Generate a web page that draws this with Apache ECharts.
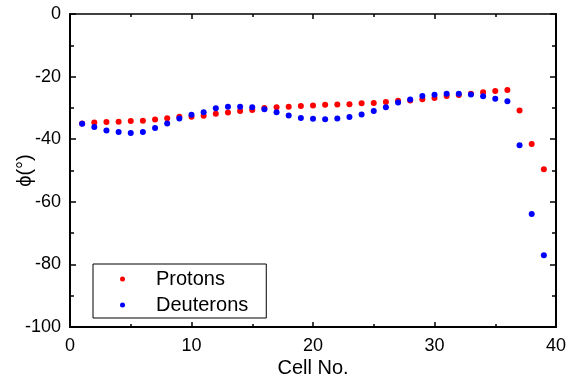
<!DOCTYPE html>
<html>
<head>
<meta charset="utf-8">
<script src="https://cdn.jsdelivr.net/npm/echarts@6/dist/echarts.min.js"></script>
<style>
  html, body { margin: 0; padding: 0; background: #fff; }
  #chart { width: 572px; height: 381px; }
</style>
</head>
<body>
<div id="chart"></div>
<script>
// Phase per cell, in degrees
const cells = [1,2,3,4,5,6,7,8,9,10,11,12,13,14,15,16,17,18,19,20,
               21,22,23,24,25,26,27,28,29,30,31,32,33,34,35,36,37,38,39];
const protons = [-35.0,-34.7,-34.5,-34.4,-34.2,-34.1,-33.7,-33.3,-32.8,-32.8,
                 -32.5,-31.9,-31.5,-31.0,-30.7,-30.0,-29.8,-29.6,-29.4,-29.2,
                 -29.0,-28.9,-28.8,-28.5,-28.4,-28.1,-27.7,-27.6,-27.2,-26.8,
                 -26.2,-25.9,-25.5,-25.0,-24.6,-24.3,-30.8,-41.5,-49.6];
const deuterons = [-35.1,-36.1,-37.2,-37.7,-38.0,-37.7,-36.4,-35.0,-33.4,-32.2,
                   -31.4,-30.1,-29.6,-29.6,-29.8,-30.4,-31.4,-32.4,-33.2,-33.5,
                   -33.6,-33.4,-32.9,-32.1,-31.0,-29.8,-28.3,-27.3,-26.2,-25.8,
                   -25.5,-25.5,-25.7,-26.3,-27.1,-27.9,-41.9,-63.9,-77.1];
const xTicks = { min: 0, max: 40, interval: 10 };
const yTicks = { min: -100, max: 0, interval: 20 };

const pairs = (ys) => cells.map((c, i) => [c, ys[i]]);

const font = 'Liberation Sans, Arial, sans-serif';
const axisLine = (w) => ({ show: true, onZero: false, lineStyle: { color: '#000', width: w } });
const tick = (len) => ({ show: true, inside: true, length: len, lineStyle: { color: '#000', width: 1.5 } });
const minor = (len) => ({ show: true, splitNumber: 2, length: len, lineStyle: { color: '#000', width: 1.5 } });

const chart = echarts.init(document.getElementById('chart'), null, { renderer: 'canvas' });
chart.setOption({
  animation: false,
  backgroundColor: '#fff',
  grid: { left: 70, right: 16, top: 14, bottom: 54, containLabel: false, outerBoundsMode: 'none' },
  legend: {
    orient: 'vertical',
    left: 93, top: 264,
    icon: 'circle',
    itemWidth: 5, itemHeight: 5, itemGap: 6,
    padding: [5, 18, 3, 27],
    borderColor: '#000', borderWidth: 1,
    textStyle: { fontFamily: font, fontSize: 20, lineHeight: 20, color: '#000', padding: [0, 0, 0, 26] },
    data: ['Protons', 'Deuterons']
  },
  xAxis: [{
    type: 'value', position: 'bottom',
    min: xTicks.min, max: xTicks.max, interval: xTicks.interval,
    name: 'Cell No.', nameLocation: 'middle', nameGap: 31, nameMoveOverlap: false,
    nameTextStyle: { fontFamily: font, fontSize: 20, color: '#000' },
    axisLine: axisLine(2), axisTick: tick(5), minorTick: minor(3),
    axisLabel: { margin: 10, fontFamily: font, fontSize: 18, color: '#000' },
    splitLine: { show: false }
  }, {
    type: 'value', position: 'top',
    min: xTicks.min, max: xTicks.max, interval: xTicks.interval,
    axisLine: axisLine(1.5), axisTick: tick(5), minorTick: minor(3),
    axisLabel: { show: false }, splitLine: { show: false }
  }],
  yAxis: [{
    type: 'value', position: 'left',
    min: yTicks.min, max: yTicks.max, interval: yTicks.interval,
    name: 'ϕ(°)', nameLocation: 'middle', nameGap: 35, nameMoveOverlap: false,
    nameTextStyle: { fontFamily: font, fontSize: 20, color: '#000' },
    axisLine: axisLine(2), axisTick: tick(6), minorTick: minor(4),
    axisLabel: { margin: 9, fontFamily: font, fontSize: 18, color: '#000' },
    splitLine: { show: false }
  }, {
    type: 'value', position: 'right',
    min: yTicks.min, max: yTicks.max, interval: yTicks.interval,
    axisLine: axisLine(2), axisTick: tick(6), minorTick: minor(4),
    axisLabel: { show: false }, splitLine: { show: false }
  }],
  series: [{
    name: 'Protons', type: 'scatter', symbol: 'circle', symbolSize: 6,
    itemStyle: { color: '#ff0000', opacity: 1 },
    data: pairs(protons)
  }, {
    name: 'Deuterons', type: 'scatter', symbol: 'circle', symbolSize: 6,
    itemStyle: { color: '#0000ff', opacity: 1 },
    data: pairs(deuterons)
  }]
});
</script>
</body>
</html>
